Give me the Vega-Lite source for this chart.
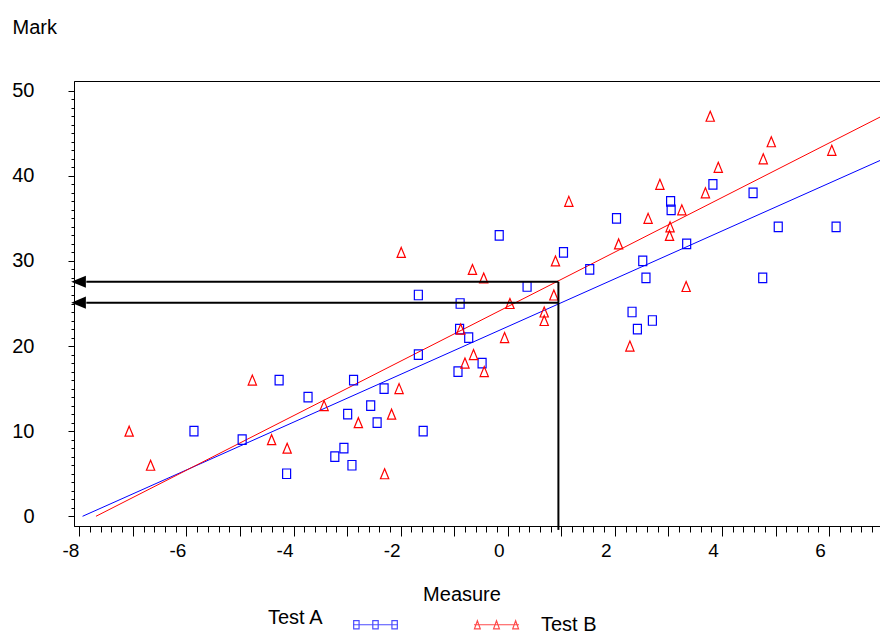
{
  "$schema": "https://vega.github.io/schema/vega-lite/v6.json",
  "width": 806,
  "height": 445,
  "autosize": {"type": "none"},
  "padding": {"left": 74, "top": 81, "right": 0, "bottom": 111},
  "background": "white",
  "config": {
    "font": "Liberation Sans",
    "view": {"stroke": "black", "strokeWidth": 1},
    "axis": {"grid": false, "domainColor": "black", "tickColor": "black", "labelColor": "black", "titleColor": "black", "titleFontWeight": "normal", "labelFlush": false, "labelOverlap": false}
  },
  "datasets": {
    "pts": [
      {"x": -5.86, "y": 10, "test": "Test A"},
      {"x": -4.96, "y": 9, "test": "Test A"},
      {"x": -4.27, "y": 16, "test": "Test A"},
      {"x": -4.13, "y": 5, "test": "Test A"},
      {"x": -3.73, "y": 14, "test": "Test A"},
      {"x": -3.23, "y": 7, "test": "Test A"},
      {"x": -3.06, "y": 8, "test": "Test A"},
      {"x": -2.99, "y": 12, "test": "Test A"},
      {"x": -2.91, "y": 6, "test": "Test A"},
      {"x": -2.88, "y": 16, "test": "Test A"},
      {"x": -2.56, "y": 13, "test": "Test A"},
      {"x": -2.44, "y": 11, "test": "Test A"},
      {"x": -2.31, "y": 15, "test": "Test A"},
      {"x": -1.67, "y": 19, "test": "Test A"},
      {"x": -1.67, "y": 26, "test": "Test A"},
      {"x": -1.58, "y": 10, "test": "Test A"},
      {"x": -0.93, "y": 17, "test": "Test A"},
      {"x": -0.9, "y": 22, "test": "Test A"},
      {"x": -0.89, "y": 25, "test": "Test A"},
      {"x": -0.73, "y": 21, "test": "Test A"},
      {"x": -0.48, "y": 18, "test": "Test A"},
      {"x": -0.16, "y": 33, "test": "Test A"},
      {"x": 0.36, "y": 27, "test": "Test A"},
      {"x": 1.04, "y": 31, "test": "Test A"},
      {"x": 1.53, "y": 29, "test": "Test A"},
      {"x": 2.03, "y": 35, "test": "Test A"},
      {"x": 2.32, "y": 24, "test": "Test A"},
      {"x": 2.42, "y": 22, "test": "Test A"},
      {"x": 2.52, "y": 30, "test": "Test A"},
      {"x": 2.58, "y": 28, "test": "Test A"},
      {"x": 2.7, "y": 23, "test": "Test A"},
      {"x": 3.04, "y": 37, "test": "Test A"},
      {"x": 3.05, "y": 36, "test": "Test A"},
      {"x": 3.34, "y": 32, "test": "Test A"},
      {"x": 3.83, "y": 39, "test": "Test A"},
      {"x": 4.58, "y": 38, "test": "Test A"},
      {"x": 4.76, "y": 28, "test": "Test A"},
      {"x": 5.05, "y": 34, "test": "Test A"},
      {"x": 6.13, "y": 34, "test": "Test A"},
      {"x": -7.07, "y": 10, "test": "Test B"},
      {"x": -6.67, "y": 6, "test": "Test B"},
      {"x": -4.77, "y": 16, "test": "Test B"},
      {"x": -4.41, "y": 9, "test": "Test B"},
      {"x": -4.12, "y": 8, "test": "Test B"},
      {"x": -3.43, "y": 13, "test": "Test B"},
      {"x": -2.79, "y": 11, "test": "Test B"},
      {"x": -2.3, "y": 5, "test": "Test B"},
      {"x": -2.17, "y": 12, "test": "Test B"},
      {"x": -2.03, "y": 15, "test": "Test B"},
      {"x": -1.99, "y": 31, "test": "Test B"},
      {"x": -0.88, "y": 22, "test": "Test B"},
      {"x": -0.8, "y": 18, "test": "Test B"},
      {"x": -0.66, "y": 29, "test": "Test B"},
      {"x": -0.64, "y": 19, "test": "Test B"},
      {"x": -0.45, "y": 28, "test": "Test B"},
      {"x": -0.44, "y": 17, "test": "Test B"},
      {"x": -0.06, "y": 21, "test": "Test B"},
      {"x": 0.04, "y": 25, "test": "Test B"},
      {"x": 0.68, "y": 24, "test": "Test B"},
      {"x": 0.68, "y": 23, "test": "Test B"},
      {"x": 0.86, "y": 26, "test": "Test B"},
      {"x": 0.89, "y": 30, "test": "Test B"},
      {"x": 1.14, "y": 37, "test": "Test B"},
      {"x": 2.07, "y": 32, "test": "Test B"},
      {"x": 2.28, "y": 20, "test": "Test B"},
      {"x": 2.62, "y": 35, "test": "Test B"},
      {"x": 2.84, "y": 39, "test": "Test B"},
      {"x": 3.02, "y": 33, "test": "Test B"},
      {"x": 3.03, "y": 34, "test": "Test B"},
      {"x": 3.25, "y": 36, "test": "Test B"},
      {"x": 3.33, "y": 27, "test": "Test B"},
      {"x": 3.69, "y": 38, "test": "Test B"},
      {"x": 3.78, "y": 47, "test": "Test B"},
      {"x": 3.93, "y": 41, "test": "Test B"},
      {"x": 4.77, "y": 42, "test": "Test B"},
      {"x": 4.92, "y": 44, "test": "Test B"},
      {"x": 6.05, "y": 43, "test": "Test B"}
    ],
    "fit": [
      {"x": -7.94, "y": 0, "test": "Test A"},
      {"x": 6.95, "y": 41.8, "test": "Test A"},
      {"x": -7.69, "y": 0, "test": "Test B"},
      {"x": 6.95, "y": 46.9, "test": "Test B"}
    ],
    "guides": [
      {"x": 0.945, "x2": -7.87, "y": 27.55, "y2": 27.55},
      {"x": 0.945, "x2": -7.87, "y": 25.1, "y2": 25.1},
      {"x": 0.945, "x2": 0.945, "y": 27.55, "y2": -1.6}
    ],
    "heads": [
      {"x": -8.015, "y": 27.55},
      {"x": -8.015, "y": 25.1}
    ]
  },
  "layer": [
    {
      "data": {"name": "fit"},
      "transform": [{"filter": "datum.test == 'Test A'"}],
      "mark": {"type": "line", "strokeWidth": 1, "color": "#0000ff"},
      "encoding": {
        "x": {"field": "x", "type": "quantitative", "scale": {"domain": [-8.1, 6.95], "nice": false, "zero": false},
          "axis": {"orient": "bottom", "values": [-8,-7.8,-7.6,-7.4,-7.2,-7,-6.8,-6.6,-6.4,-6.2,-6,-5.8,-5.6,-5.4,-5.2,-5,-4.8,-4.6,-4.4,-4.2,-4,-3.8,-3.6,-3.4,-3.2,-3,-2.8,-2.6,-2.4,-2.2,-2,-1.8,-1.6,-1.4,-1.2,-1,-0.8,-0.6,-0.4,-0.2,0,0.2,0.4,0.6,0.8,1,1.2,1.4,1.6,1.8,2,2.2,2.4,2.6,2.8,3,3.2,3.4,3.6,3.8,4,4.2,4.4,4.6,4.8,5,5.2,5.4,5.6,5.8,6,6.2,6.4,6.6,6.8], "tickSize": 6, "labels": false, "title": null, "domain": false}},
        "y": {"field": "y", "type": "quantitative", "scale": {"domain": [-1.14, 51.14], "nice": false, "zero": false},
          "axis": {"orient": "left", "values": [0,1,2,3,4,5,6,7,8,9,10,11,12,13,14,15,16,17,18,19,20,21,22,23,24,25,26,27,28,29,30,31,32,33,34,35,36,37,38,39,40,41,42,43,44,45,46,47,48,49,50], "tickSize": 3, "labels": false, "title": null, "domain": false}}
      }
    },
    {
      "data": {"name": "fit"},
      "transform": [{"filter": "datum.test == 'Test B'"}],
      "mark": {"type": "line", "strokeWidth": 1, "color": "#ff0000"},
      "encoding": {
        "x": {"field": "x", "type": "quantitative", "axis": null},
        "y": {"field": "y", "type": "quantitative", "axis": null}
      }
    },
    {
      "data": {"name": "pts"},
      "transform": [{"filter": "datum.test == 'Test A'"}],
      "mark": {"type": "point", "filled": false, "color": "#0000ff", "strokeWidth": 1.2, "size": 100, "opacity": 1, "shape": "M-0.8,-0.95H0.8V0.95H-0.8Z"},
      "encoding": {
        "x": {"field": "x", "type": "quantitative", "scale": {"domain": [-8.1, 6.95], "nice": false, "zero": false},
          "axis": {"orient": "bottom", "values": [-8,-7,-6,-5,-4,-3,-2,-1,0,1,2,3,4,5,6], "tickSize": 10, "labelFontSize": 19, "labelPadding": 5, "labelOffset": -9,
            "labelExpr": "datum.value % 2 == 0 ? '' + datum.value : ''",
            "title": "Measure", "titleFontSize": 20, "titleX": 387.5, "titleY": 74, "titleAlign": "center", "titleBaseline": "alphabetic"}},
        "y": {"field": "y", "type": "quantitative", "scale": {"domain": [-1.14, 51.14], "nice": false, "zero": false},
          "axis": {"orient": "left", "values": [0,10,20,30,40,50], "tickSize": 6, "labelFontSize": 20, "labelPadding": 34,
            "title": "Mark", "titleFontSize": 20, "titleAngle": 0, "titleX": -62, "titleY": -48, "titleAlign": "left", "titleBaseline": "alphabetic"}}
      }
    },
    {
      "data": {"name": "pts"},
      "transform": [{"filter": "datum.test == 'Test B'"}],
      "mark": {"type": "point", "filled": false, "color": "#ff0000", "strokeWidth": 1.2, "size": 100, "opacity": 1, "shape": "M0,-1L0.83,1H-0.83Z"},
      "encoding": {
        "x": {"field": "x", "type": "quantitative", "axis": null},
        "y": {"field": "y", "type": "quantitative", "axis": null}
      }
    },
    {
      "data": {"name": "pts"},
      "mark": {"type": "point", "filled": false, "size": 0},
      "encoding": {
        "x": {"field": "x", "type": "quantitative", "axis": null},
        "y": {"field": "y", "type": "quantitative", "axis": null},
        "color": {"field": "test", "type": "nominal", "scale": {"domain": ["Test A", "Test B"], "range": ["#0000ff", "#ff0000"]},
          "legend": {
            "orient": "none", "legendX": 194, "legendY": 520, "direction": "horizontal",
            "title": "Test A", "titleOrient": "left", "titleFontSize": 20, "titleFontWeight": "normal", "titleColor": "black", "titlePadding": 28,
            "titleAnchor": "middle", "titleBaseline": "middle",
            "labelFontSize": 20, "labelColor": "black", "labelOffset": 21,
            "labelExpr": "datum.label == 'Test A' ? '' : datum.label",
            "symbolSize": 2025, "symbolStrokeWidth": 1.2, "columnPadding": 51
          }},
        "shape": {"field": "test", "type": "nominal", "scale": {"domain": ["Test A", "Test B"], "range": ["M-1,0H1M-0.97,-0.18H-0.73V0.18H-0.97ZM-0.12,-0.18H0.12V0.18H-0.12ZM0.73,-0.18H0.97V0.18H0.73Z", "M-1,0H1M-0.85,-0.18L-0.72,0.18H-0.98ZM0,-0.18L0.13,0.18H-0.13ZM0.85,-0.18L0.98,0.18H0.72Z"]},
          "legend": {
            "orient": "none", "legendX": 194, "legendY": 520, "direction": "horizontal",
            "title": "Test A", "titleOrient": "left", "titleFontSize": 20, "titleFontWeight": "normal", "titleColor": "black", "titlePadding": 28,
            "titleAnchor": "middle", "titleBaseline": "middle",
            "labelFontSize": 20, "labelColor": "black", "labelOffset": 21,
            "labelExpr": "datum.label == 'Test A' ? '' : datum.label",
            "symbolSize": 2025, "symbolStrokeWidth": 1.2, "columnPadding": 51
          }}
      }
    },
    {
      "data": {"name": "guides"},
      "mark": {"type": "rule", "color": "black", "strokeWidth": 2},
      "encoding": {
        "x": {"field": "x", "type": "quantitative", "axis": null},
        "x2": {"field": "x2"},
        "y": {"field": "y", "type": "quantitative", "axis": null},
        "y2": {"field": "y2"}
      }
    },
    {
      "data": {"name": "heads"},
      "mark": {"type": "point", "filled": true, "color": "black", "opacity": 1, "strokeWidth": 0, "size": 216, "shape": "M-1,0L1,-0.82L1,0.82Z"},
      "encoding": {
        "x": {"field": "x", "type": "quantitative", "axis": null},
        "y": {"field": "y", "type": "quantitative", "axis": null}
      }
    }
  ],
  "resolve": {"axis": {"x": "independent", "y": "independent"}}
}
